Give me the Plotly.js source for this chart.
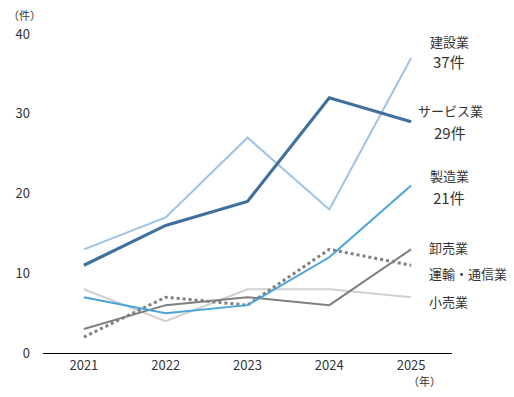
<!DOCTYPE html>
<html><head><meta charset="utf-8">
<script src="https://cdn.plot.ly/plotly-3.0.1.min.js"></script>
<style>html,body{margin:0;padding:0;background:#fff}#chart{width:514px;height:397px}</style>
</head><body><div id="chart"></div>
<script>
const years = ['2021','2022','2023','2024','2025'];
const construction = [13, 17, 27, 18, 37];
const services = [11, 16, 19, 32, 29];
const manufacturing = [7, 5, 6, 12, 21];
const wholesale = [3, 6, 7, 6, 13];
const transport = [2, 7, 6, 13, 11];
const retail = [8, 4, 8, 8, 7];
const seriesNames = ['建設業','サービス業','製造業','卸売業','運輸・通信業','小売業'];
const yTicks = [0, 10, 20, 30, 40];

const F = '"Noto Sans CJK JP", "Noto Sans", sans-serif';
const mk = (y, name, color, width, dash) => ({
  x: years, y: y, name: name, type: 'scatter', mode: 'lines',
  line: {color: color, width: width, dash: dash || 'solid'}, hoverinfo: 'skip'
});
const traces = [
  mk(retail, seriesNames[5], '#D0D0D0', 2),
  mk(wholesale, seriesNames[3], '#7F7F7F', 2),
  mk(transport, seriesNames[4], '#7F7F7F', 3, 'dot'),
  mk(manufacturing, seriesNames[2], '#4BA3DA', 2),
  mk(construction, seriesNames[0], '#9DC3E6', 2),
  mk(services, seriesNames[1], '#41709C', 3.2)
];
const txt = '#333333';
const ann = [
  {x: 449, y: 41, text: seriesNames[0], size: 13, anchor: 'center'},
  {x: 449, y: 61, text: construction[4] + '件', size: 15, anchor: 'center'},
  {x: 450, y: 110, text: seriesNames[1], size: 13, anchor: 'center'},
  {x: 450, y: 132, text: services[4] + '件', size: 15, anchor: 'center'},
  {x: 449, y: 175, text: seriesNames[2], size: 13, anchor: 'center'},
  {x: 449, y: 197, text: manufacturing[4] + '件', size: 15, anchor: 'center'},
  {x: 428, y: 248, text: seriesNames[3], size: 13, anchor: 'left'},
  {x: 428, y: 273, text: seriesNames[4], size: 13, anchor: 'left'},
  {x: 428, y: 301, text: seriesNames[5], size: 13, anchor: 'left'},
  {x: 24, y: 15, text: '（件）', size: 11, anchor: 'center'},
  {x: 424, y: 381, text: '（年）', size: 11, anchor: 'center'}
].map(a => ({
  xref: 'paper', yref: 'paper',
  x: (a.x - 43) / (452 - 43), y: (353 - a.y) / (353 - 34),
  xanchor: a.anchor, yanchor: 'middle', showarrow: false, borderpad: 0,
  text: a.text, font: {family: F, size: a.size, color: txt}
}));
const layout = {
  width: 514, height: 397,
  margin: {l: 43, r: 62, t: 34, b: 44},
  paper_bgcolor: '#fff', plot_bgcolor: '#fff',
  showlegend: false,
  font: {family: F, color: txt, size: 13},
  xaxis: {type: 'category', range: [-0.5, 4.5], showgrid: false, zeroline: false,
          showline: true, linecolor: '#000', linewidth: 1, ticks: '',
          tickfont: {family: F, size: 13, color: txt}, fixedrange: true},
  yaxis: {range: [0, 40], tickvals: yTicks, showgrid: false, zeroline: false,
          showline: false, ticks: '', ticklabelstandoff: 12,
          tickfont: {family: F, size: 13, color: txt}, fixedrange: true},
  annotations: ann
};
Plotly.newPlot('chart', traces, layout, {staticPlot: true, displayModeBar: false});
</script></body></html>
